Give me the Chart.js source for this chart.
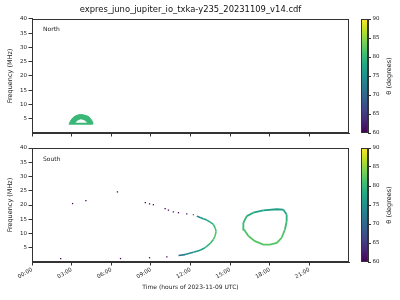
<!DOCTYPE html>
<html>
<head>
<meta charset="utf-8">
<script src="https://cdn.jsdelivr.net/npm/chart.js@4.4.0/dist/chart.umd.min.js"></script>
<style>
  html, body { margin: 0; padding: 0; background: #fff; }
  #wrap { position: relative; width: 400px; height: 300px; overflow: hidden; }
  canvas { position: absolute; }
</style>
</head>
<body>
<div id="wrap">
  <canvas id="north" width="381" height="140" style="left:0;top:0"></canvas>
  <canvas id="south" width="381" height="160" style="left:0;top:140px"></canvas>
  <canvas id="cbN" width="45" height="140" style="left:355px;top:0"></canvas>
  <canvas id="cbS" width="45" height="160" style="left:355px;top:140px"></canvas>
</div>
<script>
const hourTicks = [0, 3, 6, 9, 12, 15, 18, 21];
const hourLabels = ['00:00', '03:00', '06:00', '09:00', '12:00', '15:00', '18:00', '21:00'];
const freqTicks = [5, 10, 15, 20, 25, 30, 35, 40];
const thetaTicks = [60, 65, 70, 75, 80, 85, 90];

// North: small arc near 03:00-04:30, outline of the emission band and its hollow
const northOuterHour = [2.80, 2.95, 3.15, 3.40, 3.65, 3.95, 4.28, 4.50, 4.62, 4.60, 2.80];
const northOuterFreq = [3.1, 4.5, 5.6, 6.2, 6.5, 6.3, 5.8, 4.6, 3.5, 3.1, 3.1];
const northInnerHour = [3.28, 3.42, 3.70, 4.00, 4.20, 3.28];
const northInnerFreq = [3.5, 4.4, 4.95, 4.5, 3.5, 3.5];
const northTheta = 80;

// South: isolated dots
const southDotHour = [2.17, 3.07, 4.08, 6.47, 6.70, 8.58, 8.90, 9.19, 10.08, 10.33, 10.70, 11.09, 11.72, 12.22, 10.21, 8.90];
const southDotFreq = [1.2, 20.5, 21.5, 24.6, 1.2, 20.8, 20.4, 20.1, 18.7, 18.2, 17.6, 17.3, 16.9, 16.6, 1.8, 1.5];
const southDotTheta = [60, 60, 60, 60, 60, 60, 60, 60, 60, 61, 61, 60, 61, 70, 60, 60];

// South: continuous arc around 12:00-14:00
const southArcHour = [12.48, 12.73, 12.97, 13.23, 13.49, 13.73, 13.86, 13.94, 13.86, 13.73, 13.49, 13.10, 12.73, 12.22, 11.59, 11.09];
const southArcFreq = [16.1, 15.6, 15.2, 14.7, 14.0, 13.2, 12.0, 10.8, 9.1, 7.9, 6.5, 5.0, 4.1, 3.4, 2.6, 2.3];
const southArcTheta = [73, 75, 76, 77, 78, 80, 81, 82, 82, 81, 80, 79, 77, 75, 73, 71];

// South: closed loop around 16:00-19:30
const southLoopHour = [16.00, 16.26, 16.75, 17.51, 18.53, 19.02, 19.28, 19.28, 19.15, 18.90, 18.53, 18.01, 17.51, 16.88, 16.38, 16.05, 16.00];
const southLoopFreq = [13.75, 16.1, 17.3, 18.1, 18.5, 18.4, 16.7, 14.3, 11.4, 8.5, 6.7, 6.1, 6.1, 7.3, 9.1, 11.4, 13.75];
const southLoopTheta = [80, 79, 78, 77, 77, 77, 78, 80, 81, 82, 82, 82, 82, 82, 82, 81, 80];

Chart.defaults.font.family = 'DejaVu Sans';
Chart.defaults.color = '#222';

const VIRIDIS = ['#440154', '#482475', '#414487', '#355f8d', '#2a788e', '#21918c', '#22a884', '#44bf70', '#7ad151', '#bddf26', '#fde725'];
function hexRgb(h) {
  return [parseInt(h.slice(1, 3), 16), parseInt(h.slice(3, 5), 16), parseInt(h.slice(5, 7), 16)];
}
function viridis(theta) {
  const t = Math.max(0, Math.min(1, (theta - 60) / 30));
  const p = t * 10, i = Math.min(9, Math.floor(p)), f = p - i;
  const a = hexRgb(VIRIDIS[i]), b = hexRgb(VIRIDIS[i + 1]);
  const c = a.map((v, k) => Math.round(v + (b[k] - v) * f));
  return `rgb(${c[0]},${c[1]},${c[2]})`;
}
const pts = (xs, ys) => xs.map((x, i) => ({ x, y: ys[i] }));

const frame = {
  id: 'frame',
  afterDatasetsDraw(chart) {
    const { ctx, chartArea: a } = chart;
    ctx.save();
    ctx.strokeStyle = '#333';
    ctx.lineWidth = 1;
    ctx.strokeRect(Math.round(a.left) + 0.5, Math.round(a.top) + 0.5,
      Math.round(a.right - a.left) - 1, Math.round(a.bottom - a.top) - 1);
    ctx.restore();
  }
};

const panelLabel = {
  id: 'panelLabel',
  afterDatasetsDraw(chart, args, opts) {
    const { ctx, chartArea: a } = chart;
    ctx.save();
    ctx.font = '6px "DejaVu Sans"';
    ctx.fillStyle = '#222';
    ctx.textBaseline = 'middle';
    ctx.fillText(opts.text, a.left + 11, a.top + 11);
    ctx.restore();
  }
};

function panel(id, datasets, name, bottom) {
  return new Chart(document.getElementById(id), {
    type: 'scatter',
    data: { datasets },
    options: {
      responsive: false,
      animation: false,
      layout: { padding: bottom ? { left: 0, right: 32, top: 8, bottom: 0 } : { left: 0, right: 32, top: 1.5, bottom: 0 } },
      plugins: {
        legend: { display: false },
        tooltip: { enabled: false },
        title: {
          display: !bottom,
          fullSize: false,
          text: 'expres_juno_jupiter_io_txka-y235_20231109_v14.cdf',
          font: { size: 8.4, weight: 'normal' },
          color: '#111',
          padding: { top: 3.5, bottom: 3.8 }
        },
        panelLabel: { text: name }
      },
      scales: {
        x: {
          type: 'linear', min: 0, max: 24,
          afterBuildTicks: s => { s.ticks = hourTicks.map(v => ({ value: v })); },
          afterFit: s => { s.height = bottom ? 38 : 7; },
          grid: { drawOnChartArea: false, tickLength: 3.5, color: '#333' },
          border: { color: '#333' },
          ticks: {
            display: bottom,
            minRotation: 30, maxRotation: 30, padding: 1,
            font: { size: 5.5 },
            callback: v => hourLabels[hourTicks.indexOf(v)]
          },
          title: {
            display: bottom,
            text: 'Time (hours of 2023-11-09 UTC)',
            font: { size: 6 },
            padding: { top: 0, bottom: 8.5 }
          }
        },
        y: {
          min: 0, max: 40,
          afterBuildTicks: s => { s.ticks = freqTicks.map(v => ({ value: v })); },
          afterFit: s => { s.width = 32; },
          grid: { drawOnChartArea: false, tickLength: 3.5, color: '#333' },
          border: { color: '#333' },
          ticks: { font: { size: 5.5 }, padding: 1.5 },
          title: { display: true, text: 'Frequency (MHz)', font: { size: 6.5 }, padding: { top: 6, bottom: 0 } }
        }
      }
    },
    plugins: [frame, panelLabel]
  });
}

function lineSet(xs, ys, thetas, width) {
  return {
    data: pts(xs, ys),
    showLine: true,
    pointRadius: 0,
    borderWidth: width,
    borderColor: viridis(thetas[0]),
    segment: { borderColor: c => viridis((thetas[c.p0DataIndex] + thetas[c.p1DataIndex]) / 2) }
  };
}

// dataset 0 is drawn on top, so the hollow comes first
panel('north', [
  {
    data: pts(northInnerHour, northInnerFreq), showLine: true, fill: 'shape',
    pointRadius: 0, borderWidth: 0.5,
    borderColor: viridis(northTheta), backgroundColor: '#ffffff'
  },
  {
    data: pts(northOuterHour, northOuterFreq), showLine: true, fill: 'shape',
    pointRadius: 0, borderWidth: 1,
    borderColor: viridis(northTheta), backgroundColor: viridis(northTheta)
  }
], 'North', false);

panel('south', [
  {
    data: pts(southDotHour, southDotFreq),
    pointStyle: 'rect', pointRadius: 0.9, pointBorderWidth: 0,
    pointBackgroundColor: southDotTheta.map(viridis),
    pointBorderColor: southDotTheta.map(viridis)
  },
  lineSet(southArcHour, southArcFreq, southArcTheta, 1.6),
  lineSet(southLoopHour, southLoopFreq, southLoopTheta, 1.8)
], 'South', true);

const cbLabel = {
  id: 'cbLabel',
  afterDraw(chart) {
    const { ctx, chartArea: a } = chart;
    ctx.save();
    ctx.translate(34, (a.top + a.bottom) / 2);
    ctx.rotate(-Math.PI / 2);
    ctx.font = '6.5px "DejaVu Sans"';
    ctx.fillStyle = '#222';
    ctx.textAlign = 'center';
    ctx.textBaseline = 'middle';
    ctx.fillText('θ (degrees)', 0, 0);
    ctx.restore();
  }
};

function colorbar(id, top, bottom) {
  return new Chart(document.getElementById(id), {
    type: 'bar',
    data: {
      labels: ['θ'],
      datasets: [{
        data: [[thetaTicks[0], thetaTicks[thetaTicks.length - 1]]],
        barPercentage: 1, categoryPercentage: 1, borderWidth: 0,
        backgroundColor: c => {
          const a = c.chart.chartArea;
          if (!a) return '#21918c';
          const g = c.chart.ctx.createLinearGradient(0, a.bottom, 0, a.top);
          VIRIDIS.forEach((col, i) => g.addColorStop(i / 10, col));
          return g;
        }
      }]
    },
    options: {
      responsive: false,
      animation: false,
      layout: { padding: { left: 6, right: 0, top, bottom } },
      plugins: { legend: { display: false }, tooltip: { enabled: false } },
      scales: {
        x: { display: false },
        y: {
          position: 'right', min: 60, max: 90,
          afterBuildTicks: s => { s.ticks = thetaTicks.map(v => ({ value: v })); },
          afterFit: s => { s.width = 32; },
          grid: { drawOnChartArea: false, tickLength: 3, color: '#333' },
          border: { color: '#333' },
          ticks: { font: { size: 5.5 }, padding: 1.5 }
        }
      }
    },
    plugins: [frame, cbLabel]
  });
}

colorbar('cbN', 19, 7);
colorbar('cbS', 8, 38);
</script>
</body>
</html>
